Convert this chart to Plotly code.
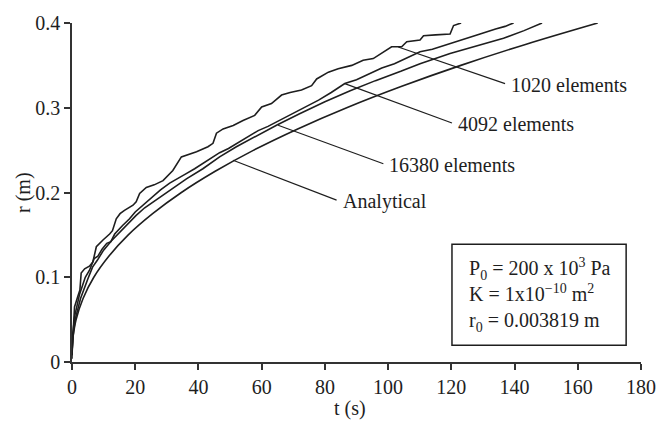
import plotly.graph_objects as go

# ---- data ----
t_analytical = [0, 0.013, 0.12, 0.35, 1.3, 3.5, 6.9, 11.7, 17.8, 25.5, 34.6, 45.3,
                57.5, 71.4, 86.9, 104.1, 123.0, 143.7, 166.3]
r_analytical = [0.0038, 0.01, 0.02, 0.03, 0.05, 0.075, 0.1, 0.125, 0.15, 0.175, 0.2,
                0.225, 0.25, 0.275, 0.3, 0.325, 0.35, 0.375, 0.4]

t_16380 = [0, 0.3, 1.0, 2.7, 5.0, 6.5, 8.0, 10, 12.5, 15.1, 17.5, 20.3, 23, 26.1, 30.9,
           36.2, 41.4, 46.7, 52, 58.9, 65, 72, 80, 88, 96, 104, 110.1, 119.6, 128,
           136.5, 143, 148.7]
r_16380 = [0.008, 0.03, 0.05, 0.075, 0.098, 0.112, 0.12, 0.132, 0.143, 0.153, 0.163, 0.173,
           0.182, 0.190, 0.203, 0.216, 0.228, 0.242, 0.254, 0.268, 0.28, 0.293, 0.307,
           0.32, 0.332, 0.343, 0.352, 0.364, 0.373, 0.382, 0.391, 0.4]

t_4092 = [0, 0.2, 0.9, 2.4, 4.2, 5.5, 7.0, 8.2, 9.5, 11, 12.3, 13.5, 16, 18.2, 20, 21.8,
          23.5, 25.6, 28, 30.9, 33.5, 36, 38.8, 41.4, 44, 46.7, 49.5, 52.5, 55.5, 58.9,
          62, 66, 70, 74, 78, 82, 86.3, 90, 94, 98, 102, 106, 110.1, 114, 119.6, 124,
          129.1, 134, 137, 139.7]
r_4092 = [0.008, 0.032, 0.055, 0.08, 0.1, 0.108, 0.122, 0.125, 0.133, 0.14, 0.142,
          0.151, 0.161, 0.169, 0.177, 0.183, 0.189, 0.195, 0.203, 0.211, 0.217, 0.222,
          0.228, 0.234, 0.240, 0.247, 0.252, 0.259, 0.265, 0.273, 0.278, 0.286, 0.294,
          0.301, 0.309, 0.318, 0.3285, 0.333, 0.340, 0.347, 0.352, 0.359, 0.366, 0.369,
          0.376, 0.381, 0.387, 0.393, 0.396, 0.4]

t_1020 = [0, 0.4, 0.8, 1.8, 2.5, 2.9, 4.0, 5.5, 6.6, 7.7, 9.2, 9.8, 11.9, 12.8, 14.0,
          15.2, 16.6, 19.3, 20.3, 21.4, 23.5, 26, 28.8, 31.9, 34.6, 37, 39.4, 43.0,
          44.6, 45.7, 47.8, 51, 54.1, 57.8, 60, 63.1, 66.3, 69, 72.6, 75.8, 77.4,
          81.1, 84.2, 88.5, 92.1, 95.3, 98.5, 101.1, 104.3, 105.9, 110.1, 111.2, 115,
          119.6, 120.7, 123.1]
r_1020 = [0.01, 0.04, 0.065, 0.077, 0.085, 0.105, 0.110, 0.113, 0.118, 0.136, 0.142,
          0.144, 0.151, 0.155, 0.169, 0.175, 0.179, 0.185, 0.189, 0.199, 0.206, 0.209,
          0.214, 0.226, 0.242, 0.245, 0.248, 0.254, 0.258, 0.270, 0.275, 0.279, 0.285,
          0.291, 0.301, 0.305, 0.315, 0.318, 0.321, 0.326, 0.334, 0.342, 0.346, 0.350,
          0.356, 0.358, 0.366, 0.372, 0.372, 0.378, 0.380, 0.385, 0.386, 0.387, 0.397,
          0.400]

# label text, curve anchor (t, r), label anchor (t, r)
labels = ["1020 elements", "4092 elements", "16380 elements", "Analytical"]
label_curve_pts = [(103.2, 0.3717), (86.3, 0.3285), (65.2, 0.2793), (50.95, 0.238)]
label_text_pts = [(137.0, 0.3285), (120.2, 0.282), (98.5, 0.234), (83.7, 0.191)]

x_ticks = [0, 20, 40, 60, 80, 100, 120, 140, 160, 180]
y_ticks = [0, 0.1, 0.2, 0.3, 0.4]
y_ticklabels = ["0", "0.1", "0.2", "0.3", "0.4"]

FONT = "Liberation Serif, Times New Roman, serif"
INK = "#1e1e1e"

fig = go.Figure()
for tt, rr, shape in [(t_analytical, r_analytical, "spline"),
                      (t_16380, r_16380, "linear"),
                      (t_4092, r_4092, "linear"),
                      (t_1020, r_1020, "linear")]:
    fig.add_trace(go.Scatter(x=tt, y=rr, mode="lines",
                             line=dict(color=INK, width=1.6, shape=shape),
                             showlegend=False, hoverinfo="skip"))

for name, (cx, cy), (lx, ly) in zip(labels, label_curve_pts, label_text_pts):
    fig.add_shape(type="line", xref="x", yref="y", x0=cx, y0=cy, x1=lx, y1=ly,
                  line=dict(color=INK, width=1.2))
    fig.add_annotation(x=lx, y=ly, xref="x", yref="y", text=name, showarrow=False,
                       xanchor="left", yanchor="middle", xshift=4, yshift=-1,
                       font=dict(family=FONT, size=20, color=INK))

# parameter box
fig.add_shape(type="rect", xref="x", yref="y", x0=120.2, x1=175.3, y0=0.0197, y1=0.139,
              line=dict(color=INK, width=1.5), fillcolor="white")
box_text = ("P<sub>0</sub> = 200 x 10<sup>3</sup> Pa<br>"
            "K = 1x10<sup>\u221210</sup> m<sup>2</sup><br>"
            "r<sub>0</sub> = 0.003819 m")
fig.add_annotation(x=124.9, y=0.0795, xref="x", yref="y", text=box_text,
                   showarrow=False, xanchor="left", yanchor="middle", align="left",
                   font=dict(family=FONT, size=20, color=INK))

# axis titles
fig.add_annotation(x=-0.0844, y=0.5015, xref="paper", yref="paper", text="r (m)",
                   textangle=-90, showarrow=False, xanchor="center", yanchor="middle",
                   font=dict(family=FONT, size=20, color=INK))
fig.add_annotation(x=0.4886, y=-0.1357, xref="paper", yref="paper", text="t (s)",
                   showarrow=False, xanchor="center", yanchor="middle",
                   font=dict(family=FONT, size=20, color=INK))

axis_common = dict(showline=True, linecolor="#333333", linewidth=1.5,
                   ticks="outside", ticklen=6, tickwidth=1.5, tickcolor="#333333",
                   showgrid=False, zeroline=False, mirror=False,
                   tickfont=dict(family=FONT, size=20, color=INK))

fig.update_layout(
    width=672, height=421,
    margin=dict(l=72, r=31, t=23, b=59),
    paper_bgcolor="white", plot_bgcolor="white",
    xaxis=dict(range=[0, 180], tickvals=x_ticks, **axis_common),
    yaxis=dict(range=[0, 0.4], tickvals=y_ticks, ticktext=y_ticklabels, **axis_common),
)

fig.write_html("out.html")
